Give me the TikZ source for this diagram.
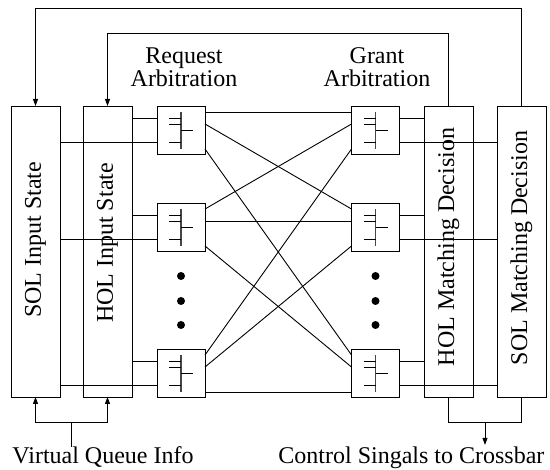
\documentclass[tikz,border=0pt]{standalone}
\usepackage{fontspec}
\setmainfont{Liberation Serif}
\usetikzlibrary{arrows.meta,calc,positioning}
\begin{document}
\begin{tikzpicture}[x=1pt,y=-1pt,>={Triangle[length=7pt,width=5pt]},line width=0.9pt]
    \tikzset{
        box/.style={draw, minimum width=49pt, minimum height=291pt, inner sep=0pt, outer sep=0pt},
        arb/.style={draw, minimum width=48pt, minimum height=48pt, inner sep=0pt, outer sep=0pt},
        txt/.style={font=\fontsize{24}{23}\selectfont, inner sep=0pt},
        pics/arbsym/.style={code={
            \draw[gray!55!black, line width=1.4pt] (24,6) -- (24,43);
            \draw (12,12) -- (24,12) (12,18) -- (24,18) (12,36) -- (24,36) (24,24) -- (36,24);
        }},
    }
    \useasboundingbox (0,0) rectangle (550,470);

    % state and decision blocks
    \node[box] (solin) at (35.5,251.5) {};
    \node[box] (holin) at (107.5,251.5) {};
    \node[box] (holmd) at (448.5,251.5) {};
    \node[box] (solmd) at (521.5,251.5) {};
    \node[txt, rotate=90] (solint) at (35.5,240) {SOL Input State};
    \node[txt, rotate=90] (holint) at (107.5,243) {HOL Input State};
    \node[txt, rotate=90] (holmdt) at (448.5,247) {HOL Matching Decision};
    \node[txt, rotate=90] (solmdt) at (521.5,248) {SOL Matching Decision};

    % arbiters
    \foreach \i/\y in {1/130,2/227,3/373} {
        \node[arb] (rq\i) at (181,\y) {};
        \node[arb] (gr\i) at (375.5,\y) {};
        \pic at (rq\i.north west) {arbsym};
        \pic at (gr\i.north west) {arbsym};
    }
    \foreach \y in {276,301,325} {
        \fill (181,\y) circle (4pt);
        \fill (375.5,\y) circle (4pt);
    }

    \node[txt, align=center] (reqlbl) at (184,67) {Request\\Arbitration};
    \node[txt, align=center] (grtlbl) at (377,67) {Grant\\Arbitration};

    % inputs and outputs of the arbiters
    \foreach \i in {1,2,3} {
        \draw ($(holin.east |- rq\i.north)+(0,12)$) -- ($(rq\i.north west)+(0,12)$);
        \draw ($(solin.east |- rq\i.north)+(0,36)$) -- ($(rq\i.north west)+(0,36)$);
        \draw ($(gr\i.north east)+(0,12)$) -- ($(holmd.west |- gr\i.north)+(0,12)$);
        \draw ($(gr\i.north east)+(0,36)$) -- ($(solmd.west |- gr\i.north)+(0,36)$);
    }

    % request to grant crossbar
    \foreach \i/\oi in {1/6,2/18,3/43} {
        \foreach \j/\oj in {1/6,2/18,3/43} {
            \draw ($(rq\i.north east)+(0,\oj)$) -- ($(gr\j.north west)+(0,\oi)$);
        }
    }

    % feedback
    \draw[->] (solmd.north) -- ++(0,-98) -| (solin.north);
    \draw[->] (holmd.north) -- ++(0,-73) -| (holin.north);

    % virtual queue info
    \node[txt, anchor=base west] (vqi) at (12,464) {Virtual Queue Info};
    \coordinate (vqj) at (71.5,422);
    \draw (vqj) -- (vqj |- vqi.north);
    \draw[->] (vqj) -| (solin.south);
    \draw[->] (vqj) -| (holin.south);

    % control signals
    \node[txt, anchor=base west] (csc) at (278,464) {Control Singals to Crossbar};
    \coordinate (csj) at (485,422);
    \draw (holmd.south) |- (solmd.south |- csj) -- (solmd.south);
    \draw[->] (csj) -- ([yshift=2pt]csj |- csc.north);
\end{tikzpicture}
\end{document}
